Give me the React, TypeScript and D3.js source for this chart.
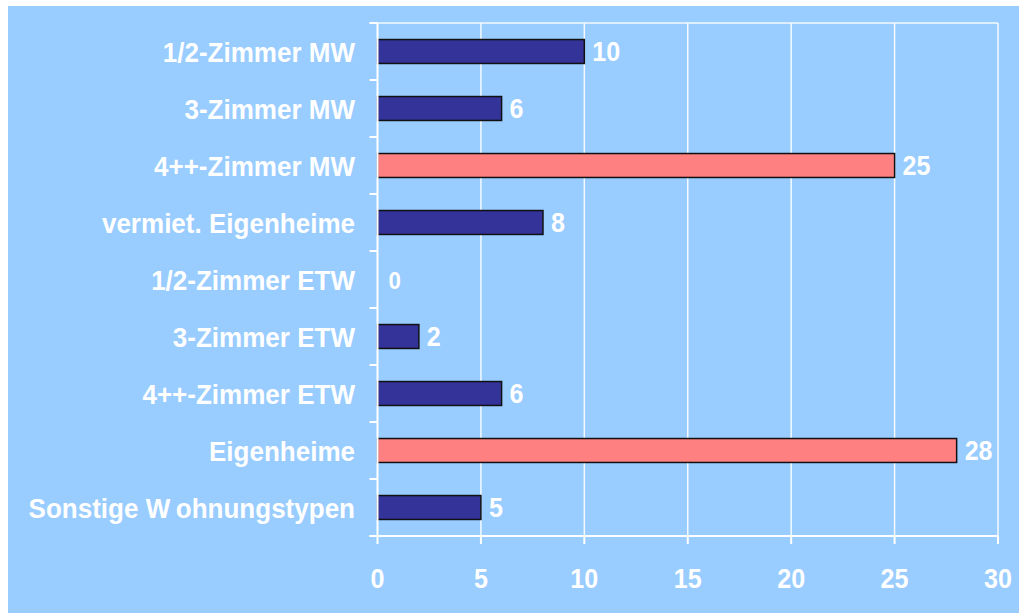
import * as d3 from "d3";

const categories = [
  "1/2-Zimmer MW",
  "3-Zimmer MW",
  "4++-Zimmer MW",
  "vermiet. Eigenheime",
  "1/2-Zimmer ETW",
  "3-Zimmer ETW",
  "4++-Zimmer ETW",
  "Eigenheime",
  "Sonstige Wohnungstypen",
];
const values = [10, 6, 25, 8, 0, 2, 6, 28, 5];
const highlighted = [false, false, true, false, false, false, false, true, false];
const xTicks = [0, 5, 10, 15, 20, 25, 30];

const width = 1019;
const height = 613;
const plot = { left: 377.5, right: 998, top: 23, bottom: 536 };

const font = "'Liberation Sans', Arial, sans-serif";
const squeeze = 0.93;

// the source renders a little extra gap after a capital W
const renderLabel = (c: string) => {
  const i = c.indexOf("W");
  if (i < 0 || i === c.length - 1 || c[i + 1] === " ") return c;
  return (
    <>
      <tspan>{c.slice(0, i + 1)}</tspan>
      <tspan dx={6}>{c.slice(i + 1)}</tspan>
    </>
  );
};

export default function App() {
  const x = d3.scaleLinear().domain([0, 30]).range([plot.left, plot.right]);
  const y = d3
    .scaleBand<string>()
    .domain(categories)
    .range([plot.top, plot.bottom])
    .paddingInner(0.58)
    .paddingOuter(0.29);
  // band boundaries for the category ticks
  const bounds = d3.range(categories.length + 1).map((i) => plot.top + i * ((plot.bottom - plot.top) / categories.length));

  return (
    <svg
      width={width}
      height={height}
      viewBox={`0 0 ${width} ${height}`}
      style={{ position: "absolute", left: 0, top: 0 }}
    >
      <rect x={0} y={0} width={width} height={height} fill="#ffffff" />
      <rect x={8} y={6} width={width - 8} height={height - 6} fill="#99CCFF" />

      {/* gridlines */}
      {xTicks.slice(1).map((t) => (
        <line key={t} x1={x(t)} x2={x(t)} y1={plot.top} y2={plot.bottom} stroke="#F4FAFF" strokeWidth={1.5} />
      ))}
      <line x1={plot.left - 8} x2={plot.right} y1={plot.top} y2={plot.top} stroke="#F4FAFF" strokeWidth={1.5} />

      {/* bars */}
      {categories.map((c, i) => (
        <rect
          key={c}
          x={x(0)}
          y={y(c)!}
          width={x(values[i]) - x(0)}
          height={y.bandwidth()}
          fill={highlighted[i] ? "#FF8080" : "#333399"}
          stroke={values[i] > 0 ? "#111111" : "none"}
          strokeWidth={1.5}
        />
      ))}

      {/* value labels */}
      {categories.map((c, i) => (
        <text
          key={c}
          transform={`translate(${x(values[i]) + 8 + (values[i] === 0 ? 3 : 0)},${y(c)! + y.bandwidth() / 2 + 9.5}) scale(${squeeze},1)`}
          fill="#ffffff"
          fontFamily={font}
          fontWeight="bold"
          fontSize={values[i] === 0 ? 24 : 27}
        >
          {values[i]}
        </text>
      ))}

      {/* y axis */}
      <line x1={plot.left} x2={plot.left} y1={plot.top} y2={plot.bottom} stroke="#ffffff" strokeWidth={2} />
      {bounds.map((b, i) => (
        <line key={i} x1={plot.left - 8} x2={plot.left} y1={b} y2={b} stroke="#ffffff" strokeWidth={2} />
      ))}
      {categories.map((c) => (
        <text
          key={c}
          transform={`translate(355,${y(c)! + y.bandwidth() / 2 + 10}) scale(${squeeze},1)`}
          textAnchor="end"
          fill="#ffffff"
          fontFamily={font}
          fontWeight="bold"
          fontSize={28}
        >
          {renderLabel(c)}
        </text>
      ))}

      {/* x axis */}
      <line x1={plot.left - 8} x2={plot.right} y1={plot.bottom} y2={plot.bottom} stroke="#ffffff" strokeWidth={2} />
      {xTicks.map((t) => (
        <g key={t}>
          <line x1={x(t)} x2={x(t)} y1={plot.bottom} y2={plot.bottom + 8} stroke="#ffffff" strokeWidth={2} />
          <text
            transform={`translate(${x(t)},588) scale(${squeeze},1)`}
            textAnchor="middle"
            fill="#ffffff"
            fontFamily={font}
            fontWeight="bold"
            fontSize={27}
          >
            {t}
          </text>
        </g>
      ))}
    </svg>
  );
}
